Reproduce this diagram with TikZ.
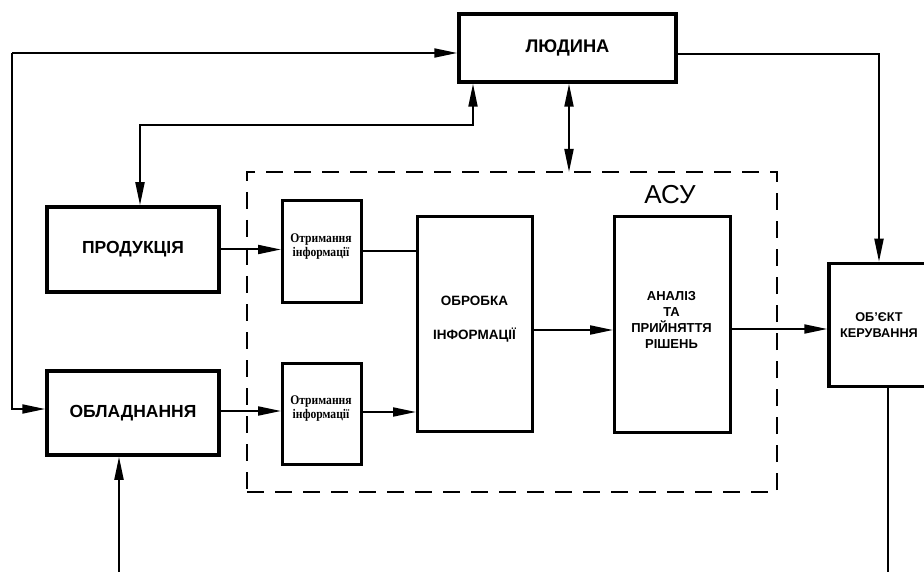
\documentclass[tikz,border=0pt]{standalone}
\usepackage{fontspec}
\setmainfont{Liberation Sans}
\newfontfamily\serifotr[FakeStretch=0.88]{Liberation Serif}
\usetikzlibrary{arrows.meta}
\begin{document}
\begin{tikzpicture}[x=1pt,y=-1pt,
  >={Triangle[length=23pt,width=9pt]},
  bigbox/.style={draw, line width=3.5pt, inner sep=0pt, align=center,
    font=\bfseries\fontsize{17.5}{20}\selectfont},
  midbox/.style={draw, line width=3pt, inner sep=0pt},
  smallbox/.style={draw, line width=3pt, inner sep=0pt},
  otrtext/.style={inner sep=0pt, align=center,
    font=\serifotr\bfseries\fontsize{13.2}{14}\selectfont},
  boxtext/.style={inner sep=0pt, align=center},
  conn/.style={line width=2pt},
  dashbox/.style={draw, line width=2pt, dash pattern=on 17pt off 11pt, inner sep=0pt}
]
\useasboundingbox (0,0) rectangle (924,572);
\fill[white] (0,0) rectangle (924,572);

% boxes
\node[bigbox, minimum width=217pt, minimum height=68pt,
  font=\bfseries\fontsize{18.3}{20}\selectfont] (lyud) at (567.5,48) {ЛЮДИНА};
\node[bigbox, minimum width=172pt, minimum height=85pt] (prod) at (133,249.5) {ПРОДУКЦІЯ};
\node[bigbox, minimum width=172pt, minimum height=84pt] (obl) at (133,413) {ОБЛАДНАННЯ};
\node[dashbox, minimum width=530pt, minimum height=320pt] (asu) at (512,332) {};
\node[font=\fontsize{26}{28}\selectfont, inner sep=0pt] (asulbl) at (670,195) {АСУ};
\node[smallbox, minimum width=79pt, minimum height=102pt] (otr1) at (322,251.5) {};
\node[otrtext] (otr1t) at (321,247) {Отримання\\інформації};
\node[smallbox, minimum width=79pt, minimum height=101pt] (otr2) at (322,414) {};
\node[otrtext] (otr2t) at (321,409) {Отримання\\інформації};
\node[midbox, minimum width=115pt, minimum height=215pt] (obr) at (475,324) {};
\node[boxtext, font=\bfseries\fontsize{13.5}{17}\selectfont] (obrt) at (474.5,319) {ОБРОБКА\\[17pt]ІНФОРМАЦІЇ};
\node[midbox, minimum width=116pt, minimum height=216pt] (anal) at (672.5,324.5) {};
\node[boxtext, font=\bfseries\fontsize{13}{16}\selectfont] (analt) at (671.5,319.5) {АНАЛІЗ\\ТА\\ПРИЙНЯТТЯ\\РІШЕНЬ};
\node[bigbox, minimum width=100pt, minimum height=123pt,
  font=\bfseries\fontsize{12.7}{16}\selectfont] (obj) at (879,325) {ОБ’ЄКТ\\КЕРУВАННЯ};

% coordinates
\coordinate (tl) at (12,53);
\coordinate (m1) at (140,125);
\coordinate (m2) at (473,125);
\coordinate (dv) at (569,172);
\coordinate (b1) at (119,572);
\coordinate (b2) at (888,572);

% connectors
\draw[conn,->] (tl) -- (tl -| lyud.west);
\draw[conn,->] (tl) |- ([yshift=4pt]obl.west);
\draw[conn,<->] (m1 |- prod.north) -- (m1) -- (m2) -- (m2 |- lyud.south);
\draw[conn,<->] (dv |- lyud.south) -- (dv);
\draw[conn,->] ([yshift=-6pt]lyud.east) -| (obj.north);
\draw[conn,->] (prod.east) -- (prod.east -| otr1.west);
\draw[conn] (otr1.east) -- (otr1.east -| obr.west);
\draw[conn,->] ([yshift=2pt]obl.east) -- ([yshift=2pt]obl.east -| otr2.west);
\draw[conn,->] ([yshift=2pt]otr2.east) -- ([yshift=2pt]otr2.east -| obr.west);
\draw[conn,->] ([yshift=-6pt]obr.east) -- ([yshift=-6pt]obr.east -| anal.west);
\draw[conn,->] ([yshift=-4.5pt]anal.east) -- ([yshift=-4.5pt]anal.east -| obj.west);
\draw[conn,->] (b1) -- (b1 |- obl.south);
\draw[conn] (b2 |- obj.south) -- (b2);
\end{tikzpicture}
\end{document}
